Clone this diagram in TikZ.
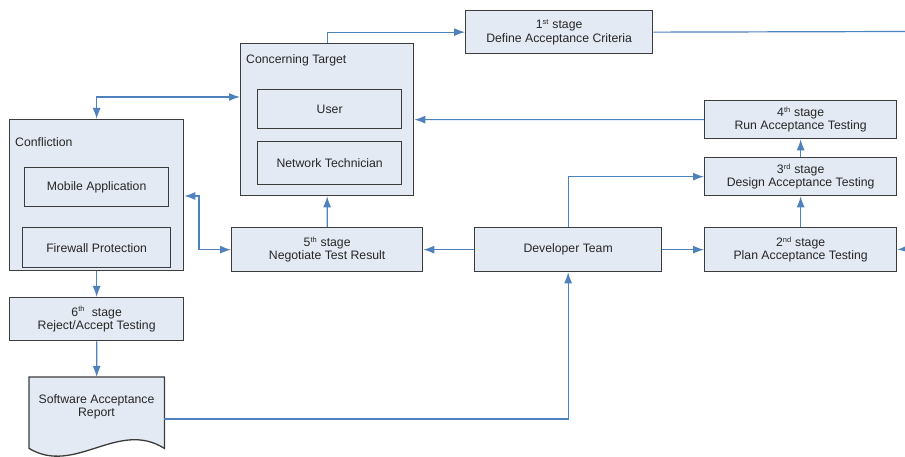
\documentclass[tikz,border=0pt]{standalone}
\usepackage{fontspec}
\setmainfont{Liberation Sans}
\usetikzlibrary{arrows.meta,calc}
\definecolor{boxfill}{HTML}{E4EAF4}
\definecolor{boxline}{HTML}{3C3C3C}
\definecolor{arrblue}{HTML}{4F81BD}
\definecolor{txt}{HTML}{262626}
\newcommand{\sps}[1]{\textsuperscript{\fontsize{7.5}{7.5}\selectfont #1}}
\tikzset{
  box/.style={draw=boxline, fill=boxfill, line width=1.3bp, anchor=north west,
    inner sep=0pt, align=center, text=txt, font=\fontsize{12.3}{13.5}\selectfont},
  conn/.style={draw=arrblue, line width=1.2bp},
  arr/.style={conn, -{Latex[length=11bp,width=8bp]}},
  arrb/.style={conn, {Latex[length=11bp,width=8bp]}-{Latex[length=11bp,width=8bp]}},
  lbl/.style={anchor=west, inner sep=0pt, text=txt, font=\fontsize{12.3}{13.5}\selectfont}
}
\begin{document}
\begin{tikzpicture}[x=1bp,y=-1bp]
\useasboundingbox (0,0) rectangle (905,457);
% containers
\node[box, minimum width=173bp, minimum height=152bp] (ct) at (240,43) {};
\node[lbl] (ctl) at (246,60) {Concerning Target};
\node[box, minimum width=144bp, minimum height=39bp] (user) at (257,89) {User};
\node[box, minimum width=144bp, minimum height=43bp] (nt) at (257,141) {Network Technician};

\node[box, minimum width=174bp, minimum height=151bp] (conf) at (9,119) {};
\node[lbl] (confl) at (15,142) {Confliction};
\node[box, minimum width=144bp, minimum height=39bp] (mob) at (24,167) {Mobile Application};
\node[box, minimum width=148bp, minimum height=40bp] (fw) at (22,227) {Firewall Protection};

% stages
\node[box, minimum width=187bp, minimum height=43bp] (s1) at (465,10) {1\sps{st} stage\\Define Acceptance Criteria};
\node[box, minimum width=192bp, minimum height=38bp] (s4) at (704,100) {4\sps{th} stage\\Run Acceptance Testing};
\node[box, minimum width=192bp, minimum height=38bp] (s3) at (704,157) {3\sps{rd} stage\\Design Acceptance Testing};
\node[box, minimum width=192bp, minimum height=44bp] (s2) at (704,227) {2\sps{nd} stage\\Plan Acceptance Testing};
\node[box, minimum width=187bp, minimum height=44bp] (dev) at (474,227) {Developer Team};
\node[box, minimum width=191bp, minimum height=44bp] (s5) at (231,227) {5\sps{th} stage\\Negotiate Test Result};
\node[box, minimum width=174bp, minimum height=43bp] (s6) at (9,297) {6\sps{th}\ \ stage\\Reject/Accept Testing};

% report (document shape)
\node[inner sep=0pt, minimum width=135bp, minimum height=71bp, anchor=north west] (rep) at (29,377) {};
\draw[draw=boxline, fill=boxfill, line width=1.3bp]
  (rep.south west) -- (rep.north west) -- (rep.north east) -- (rep.south east)
  .. controls (118,419) and (75,476) .. (rep.south west) -- cycle;
\node[align=center, text=txt, font=\fontsize{12.3}{13.5}\selectfont] (rept) at (96.5,407) {Software Acceptance\\Report};

% coordinates
\coordinate (rA) at (905,31.5);
\coordinate (rB) at (905,249);
\coordinate (ctIn) at (240,97);
\coordinate (c1) at (199,196);
\coordinate (repOut) at (164,419);

% connectors
\draw[arr] (ct.north) |- (s1.west);
\draw[conn] (s1.east) -- (rA);
\draw[arr] (rB) -- (s2.east);
\draw[arr] (s4.west) -- (ct.east);
\draw[arrb] (conf.north) |- (ctIn);
\draw[arr] (s5.north) -- (ct.south);
\draw[arrb] (conf.east |- c1) -- (c1) |- (s5.west);
\draw[arr] (dev.west) -- (s5.east);
\draw[arr] (dev.north) |- (s3.west);
\draw[arr] (dev.east) -- (s2.west);
\draw[arr] (s2.north) -- (s3.south);
\draw[arr] (s3.north) -- (s4.south);
\draw[arr] (conf.south) -- (s6.north);
\draw[arr] (s6.south) -- (rep.north);
\draw[arr] (repOut) -| (dev.south);
\end{tikzpicture}
\end{document}
